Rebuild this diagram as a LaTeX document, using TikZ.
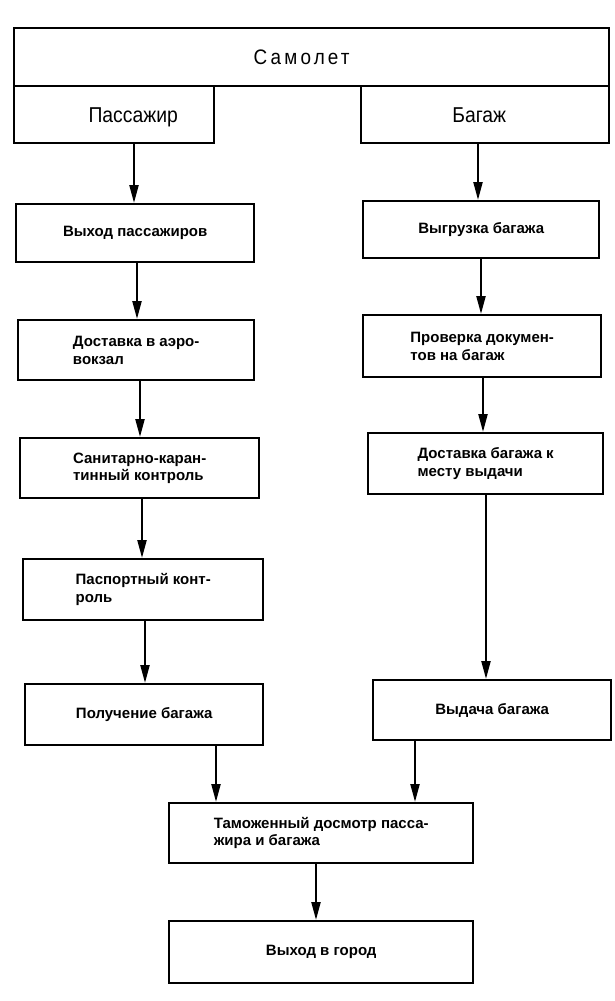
\documentclass[tikz,border=0pt]{standalone}
\usepackage{fontspec}
\setmainfont{Liberation Sans}
\newfontfamily\headfont[FakeStretch=0.9]{Liberation Sans}
\newfontfamily\spacedfont[FakeStretch=0.9,LetterSpace=15]{Liberation Sans}
\usetikzlibrary{arrows.meta}
\begin{document}
\begin{tikzpicture}[x=1pt,y=-1pt,
  box/.style={draw, line width=2.4pt, rectangle, inner sep=0pt, anchor=north west,
    align=left, font=\bfseries\fontsize{15}{17.5}\selectfont},
  headbox/.style={draw, line width=2.4pt, rectangle, inner sep=0pt, anchor=north west,
    text height=15pt, text depth=0pt, font=\headfont\fontsize{21.5}{24}\selectfont},
  arr/.style={line width=2.2pt, -{Triangle[length=18pt,width=9pt]}}
]
\useasboundingbox (0,0) rectangle (615,1001);
% top
\node[headbox, minimum width=595pt, minimum height=58pt, font=\spacedfont\fontsize{21}{24}\selectfont] (S) at (13,27) {Самолет\hspace*{20pt}};
\node[headbox, minimum width=200pt, minimum height=57pt] (Pass) at (13,85) {\hspace*{38pt}Пассажир};
\node[headbox, minimum width=248pt, minimum height=57pt] (Bag) at (360,85) {Багаж\hspace*{12pt}};
% left column
\node[box, minimum width=238pt, minimum height=58pt] (P1) at (15,203) {Выход пассажиров};
\node[box, minimum width=236pt, minimum height=60pt] (P2) at (17,319) {Доставка в аэро-\\вокзал};
\node[box, minimum width=239pt, minimum height=60pt] (P3) at (19,437) {Санитарно-каран-\\тинный контроль};
\node[box, minimum width=240pt, minimum height=61pt] (P4) at (22,558) {Паспортный конт-\\роль};
\node[box, minimum width=238pt, minimum height=61pt] (P5) at (24,683) {Получение багажа};
% right column
\node[box, minimum width=236pt, minimum height=57pt] (B1) at (362,200) {Выгрузка багажа};
\node[box, minimum width=238pt, minimum height=62pt] (B2) at (362,314) {Проверка докумен-\\тов на багаж};
\node[box, minimum width=235pt, minimum height=61pt] (B3) at (367,432) {Доставка багажа к\\месту выдачи};
\node[box, minimum width=238pt, minimum height=60pt] (B4) at (372,679) {Выдача багажа};
% bottom
\node[box, minimum width=304pt, minimum height=60pt] (C) at (168,802) {Таможенный досмотр пасса-\\жира и багажа};
\node[box, minimum width=304pt, minimum height=62pt] (D) at (168,920) {Выход в город};
% arrows
\draw[arr] (Pass.south -| 134,0) -- (P1.north -| 134,0);
\draw[arr] (P1.south -| 137,0) -- (P2.north -| 137,0);
\draw[arr] (P2.south -| 140,0) -- (P3.north -| 140,0);
\draw[arr] (P3.south -| 142,0) -- (P4.north -| 142,0);
\draw[arr] (P4.south -| 145,0) -- (P5.north -| 145,0);
\draw[arr] (Bag.south -| 478,0) -- (B1.north -| 478,0);
\draw[arr] (B1.south -| 481,0) -- (B2.north -| 481,0);
\draw[arr] (B2.south -| 483,0) -- (B3.north -| 483,0);
\draw[arr] (B3.south -| 486,0) -- (B4.north -| 486,0);
\draw[arr] (P5.south -| 216,0) -- (C.north -| 216,0);
\draw[arr] (B4.south -| 415,0) -- (C.north -| 415,0);
\draw[arr] (C.south -| 316,0) -- (D.north -| 316,0);
\end{tikzpicture}
\end{document}
